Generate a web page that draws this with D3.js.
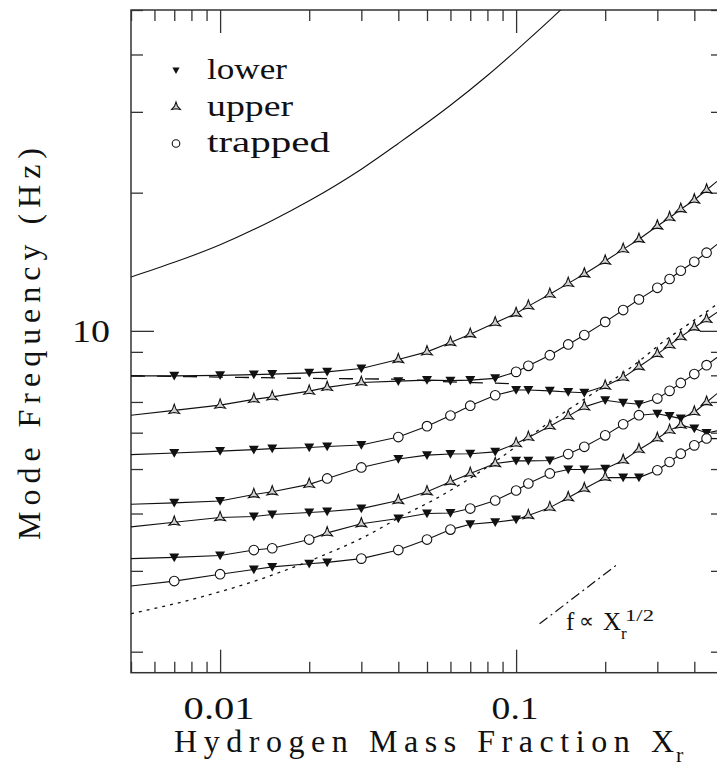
<!DOCTYPE html>
<html>
<head>
<meta charset="utf-8">
<script src="https://cdn.jsdelivr.net/npm/d3@7/dist/d3.min.js"></script>
<style>
  body { margin: 0; background: #fff; }
  text { font-family: 'Liberation Serif', 'DejaVu Serif', serif; fill: #111; }
</style>
</head>
<body>
<div id="chart"></div>
<script>
// x positions where the modes were computed
let xGrid = [0.007, 0.01, 0.013, 0.015, 0.02, 0.023, 0.03, 0.04, 0.05, 0.06, 0.07, 0.085,
  0.1, 0.11, 0.13, 0.15, 0.17, 0.2, 0.23, 0.26, 0.3, 0.33, 0.36, 0.4, 0.44]
let xEdges = [0.005, 0.5]

// branches, top to bottom (L = lower, U = upper, T = trapped)
let b1F = [7.98, 8.00, 8.03, 8.05, 8.10, 8.14, 8.28, 8.66, 9.00, 9.43, 9.83, 10.41, 10.91, 11.32, 12.01, 12.69, 13.30, 14.19, 15.05, 15.83, 16.92, 17.64, 18.40, 19.28, 20.27]
let b1Types = 'LLLLLLLUUUUUUUUUUUUUUUUUU'
let b1Edges = [7.98, 21.7]

let b2F = [6.71, 6.89, 7.09, 7.18, 7.39, 7.53, 7.72, 7.77, 7.81, 7.79, 7.81, 7.88, 8.14, 8.39, 8.85, 9.34, 9.79, 10.46, 11.10, 11.71, 12.41, 12.97, 13.52, 14.14, 14.80]
let b2Types = 'UUUUUUULLLLLTTTTTTTTTTTTT'
let b2Edges = [6.55, 15.8]

let b3F = [5.42, 5.47, 5.51, 5.54, 5.57, 5.60, 5.64, 5.87, 6.20, 6.54, 6.87, 7.24, 7.43, 7.43, 7.40, 7.36, 7.33, 7.58, 7.91, 8.35, 8.90, 9.31, 9.70, 10.17, 10.59]
let b3Types = 'LLLLLLLTTTTTLLLLLUUUUUUUU'
let b3Edges = [5.375, 11.19]

let b4F = [4.22, 4.26, 4.40, 4.46, 4.63, 4.77, 5.04, 5.26, 5.36, 5.39, 5.40, 5.45, 5.68, 5.86, 6.20, 6.52, 6.83, 7.06, 6.97, 6.92, 7.12, 7.40, 7.70, 8.05, 8.42]
let b4Types = 'LLUUUTTLLLLLUUUUULLLTTTTT'
let b4Edges = [4.19, 8.94]

let b5F = [3.83, 3.92, 3.94, 3.98, 4.02, 4.04, 4.10, 4.27, 4.46, 4.69, 4.89, 5.14, 5.21, 5.21, 5.22, 5.39, 5.59, 5.92, 6.26, 6.55, 6.60, 6.52, 6.44, 6.65, 6.99]
let b5Types = 'UULLLLLUUUUULLLTTTTTLLLUU'
let b5Edges = [3.74, 7.48]

let b6F = [3.21, 3.24, 3.33, 3.36, 3.51, 3.63, 3.80, 3.90, 4.00, 4.01, 4.10, 4.27, 4.49, 4.65, 4.89, 4.99, 4.99, 5.01, 5.22, 5.51, 5.83, 6.07, 6.23, 6.13, 5.99]
let b6Types = 'LLTTTUULLLTTTTTLLLUUUUULL'
let b6Edges = [3.19, 6.09]

let b7F = [2.85, 2.95, 3.02, 3.06, 3.11, 3.13, 3.19, 3.33, 3.51, 3.69, 3.79, 3.83, 3.88, 3.96, 4.12, 4.33, 4.53, 4.79, 4.79, 4.79, 4.97, 5.18, 5.40, 5.63, 5.83]
let b7Types = 'TTLLLLTTTTLLLUUUUULLTTTTT'
let b7Edges = [2.78, 5.82]

// unmarked solid curve at the top
let topX = [0.005, 0.007, 0.01, 0.015, 0.02, 0.03, 0.04, 0.06, 0.08, 0.1, 0.14, 0.16]
let topF = [13.1, 14.1, 15.4, 17.4, 19.2, 22.5, 25.6, 31.0, 36.0, 40.8, 49.7, 54.0]

// dotted curve
let dotX = [0.005, 0.0086, 0.0144, 0.0212, 0.0313, 0.0415, 0.054, 0.068, 0.086, 0.13, 0.178, 0.255, 0.313, 0.386, 0.464, 0.5]
let dotF = [2.42, 2.63, 2.91, 3.20, 3.58, 3.96, 4.32, 4.72, 5.22, 6.33, 7.24, 8.50, 9.45, 10.39, 11.28, 11.7]

// long dashed curve
let dashX = [0.005, 0.01, 0.02, 0.04, 0.06, 0.085, 0.095]
let dashF = [7.98, 7.93, 7.88, 7.84, 7.74, 7.69, 7.67]

// f ~ X^(1/2) guide
let guideX = [0.12, 0.22]
let guideF = [2.30, 3.10]

let xMajor = [0.01, 0.1]
let xMinor = [0.005, 0.006, 0.007, 0.008, 0.009, 0.02, 0.03, 0.04, 0.05, 0.06, 0.07, 0.08, 0.09, 0.2, 0.3, 0.4, 0.5]
let yMajor = [10]
let yMinor = [2, 3, 4, 5, 6, 7, 8, 9, 20, 30, 40, 50]
let xLabels = ['0.01', '0.1']
let yLabels = ['10']

let legendNames = ['lower', 'upper', 'trapped']
let legendTypes = ['L', 'U', 'T']

let width = 717
let height = 771
let margin = { top: 10, left: 131, right: 723, bottom: 672.7 }

let svg = d3
  .select('#chart')
  .append('svg')
  .attr('width', width)
  .attr('height', height)

let x = d3.scaleLog().domain([0.005, 0.5]).range([margin.left, margin.right])
let y = d3.scaleLog().domain([1.8, 50]).range([margin.bottom, margin.top])

svg
  .append('clipPath')
  .attr('id', 'plot-clip')
  .append('rect')
  .attr('x', margin.left)
  .attr('y', margin.top)
  .attr('width', margin.right - margin.left)
  .attr('height', margin.bottom - margin.top)

// ticks on all four sides, pointing inwards
function ticks(axis, values, size, tx, ty) {
  svg
    .append('g')
    .attr('class', 'tick-g')
    .attr('transform', 'translate(' + tx + ',' + ty + ')')
    .call(axis.tickValues(values).tickSize(-size).tickFormat(''))
}
ticks(d3.axisBottom(x), xMinor, 11, 0, margin.bottom)
ticks(d3.axisBottom(x), xMajor, 23, 0, margin.bottom)
ticks(d3.axisTop(x), xMinor, 11, 0, margin.top)
ticks(d3.axisTop(x), xMajor, 23, 0, margin.top)
ticks(d3.axisLeft(y), yMinor, 12, margin.left, 0)
ticks(d3.axisLeft(y), yMajor, 23, margin.left, 0)
ticks(d3.axisRight(y), yMinor, 12, margin.right, 0)
ticks(d3.axisRight(y), yMajor, 23, margin.right, 0)

svg.selectAll('.tick-g .domain').remove()
svg
  .selectAll('.tick-g line')
  .attr('stroke', '#333')
  .attr('stroke-width', 1.3)

svg
  .append('rect')
  .attr('x', margin.left)
  .attr('y', margin.top)
  .attr('width', margin.right - margin.left)
  .attr('height', margin.bottom - margin.top)
  .attr('fill', 'none')
  .attr('stroke', '#333')
  .attr('stroke-width', 1.5)

// tick labels
svg
  .selectAll('.xlab')
  .data(xMajor)
  .enter()
  .append('text')
  .attr('class', 'xlab')
  .attr('x', d => x(d) - 1)
  .attr('y', 719)
  .attr('text-anchor', 'middle')
  .attr('font-size', 32)
  .attr('textLength', (d, i) => (xLabels[i].length === 4 ? 71 : 47))
  .attr('lengthAdjust', 'spacingAndGlyphs')
  .text((d, i) => xLabels[i])

svg
  .selectAll('.ylab')
  .data(yMajor)
  .enter()
  .append('text')
  .attr('class', 'ylab')
  .attr('x', 72)
  .attr('y', d => y(d) + 11)
  .attr('font-size', 32)
  .attr('textLength', 38)
  .attr('lengthAdjust', 'spacingAndGlyphs')
  .text((d, i) => yLabels[i])

// axis titles
svg
  .append('text')
  .attr('x', 174)
  .attr('y', 752)
  .attr('font-size', 32)
  .attr('textLength', 500)
  .attr('lengthAdjust', 'spacing')
  .text('Hydrogen Mass Fraction X')
svg
  .append('text')
  .attr('x', 676)
  .attr('y', 762)
  .attr('font-size', 22)
  .text('r')

svg
  .append('text')
  .attr('transform', 'translate(40,344) rotate(-90)')
  .attr('text-anchor', 'middle')
  .attr('font-size', 32)
  .attr('textLength', 392)
  .attr('lengthAdjust', 'spacing')
  .text('Mode Frequency (Hz)')

// curves
let plot = svg.append('g').attr('clip-path', 'url(#plot-clip)')

let line = d3
  .line()
  .x(d => x(d[0]))
  .y(d => y(d[1]))
let smooth = d3
  .line()
  .x(d => x(d[0]))
  .y(d => y(d[1]))
  .curve(d3.curveMonotoneX)

plot
  .append('path')
  .datum(topX.map((v, i) => [v, topF[i]]))
  .attr('d', smooth)
  .attr('fill', 'none')
  .attr('stroke', '#111')
  .attr('stroke-width', 1.1)

plot
  .append('path')
  .datum(dotX.map((v, i) => [v, dotF[i]]))
  .attr('d', smooth)
  .attr('fill', 'none')
  .attr('stroke', '#111')
  .attr('stroke-width', 1.3)
  .attr('stroke-dasharray', '3,5')

plot
  .append('path')
  .datum(dashX.map((v, i) => [v, dashF[i]]))
  .attr('d', smooth)
  .attr('fill', 'none')
  .attr('stroke', '#111')
  .attr('stroke-width', 1.3)
  .attr('stroke-dasharray', '14,12')

plot
  .append('path')
  .datum(guideX.map((v, i) => [v, guideF[i]]))
  .attr('d', line)
  .attr('fill', 'none')
  .attr('stroke', '#111')
  .attr('stroke-width', 1.2)
  .attr('stroke-dasharray', '10,4,2,4')

let branches = [
  [b1F, b1Types, b1Edges],
  [b2F, b2Types, b2Edges],
  [b3F, b3Types, b3Edges],
  [b4F, b4Types, b4Edges],
  [b5F, b5Types, b5Edges],
  [b6F, b6Types, b6Edges],
  [b7F, b7Types, b7Edges]
]

branches.forEach(b => {
  let pts = [[xEdges[0], b[2][0]]]
    .concat(xGrid.map((v, i) => [v, b[0][i]]))
    .concat([[xEdges[1], b[2][1]]])
  plot
    .append('path')
    .datum(pts)
    .attr('d', line)
    .attr('fill', 'none')
    .attr('stroke', '#111')
    .attr('stroke-width', 1.1)
})

// marker shapes
function lowerPath(s) {
  return 'M' + -s + ',' + -s * 0.8 + 'L' + s + ',' + -s * 0.8 + 'L0,' + s * 0.95 + 'Z'
}
function upperPath(r, ri) {
  let pts = []
  for (let i = 0; i < 6; i++) {
    let a = -Math.PI / 2 + (i * Math.PI) / 3
    let rr = i % 2 === 0 ? r : ri
    pts.push([rr * Math.cos(a), rr * Math.sin(a)])
  }
  return 'M' + pts.map(p => p[0].toFixed(2) + ',' + p[1].toFixed(2)).join('L') + 'Z'
}

function marker(g, type, big) {
  if (type === 'L') {
    g.append('path')
      .attr('d', lowerPath(big ? 5 : 3.6))
      .attr('fill', '#111')
  } else if (type === 'U') {
    g.append('path')
      .attr('d', upperPath(big ? 6.2 : 5, big ? 2.1 : 1.7))
      .attr('fill', '#d4d4d4')
      .attr('stroke', '#111')
      .attr('stroke-width', 1.1)
      .attr('stroke-linejoin', 'miter')
  } else {
    g.append('circle')
      .attr('r', big ? 4.8 : 3.8)
      .attr('fill', '#fff')
      .attr('stroke', '#111')
      .attr('stroke-width', 1.1)
  }
}

let markerData = []
branches.forEach(b => {
  xGrid.forEach((v, i) => markerData.push({ x: v, f: b[0][i], t: b[1][i] }))
})

plot
  .selectAll('.mk')
  .data(markerData)
  .enter()
  .append('g')
  .attr('class', 'mk')
  .attr('transform', d => 'translate(' + x(d.x) + ',' + y(d.f) + ')')
  .each(function(d) {
    marker(d3.select(this), d.t, true)
  })

// legend
let legend = svg
  .selectAll('.leg')
  .data(legendNames)
  .enter()
  .append('g')
  .attr('class', 'leg')
  .attr('transform', (d, i) => 'translate(176,' + (70.5 + i * 36.5) + ')')

legend.each(function(d, i) {
  marker(d3.select(this), legendTypes[i], false)
})

legend
  .append('text')
  .attr('x', 31)
  .attr('y', 8.5)
  .attr('font-size', 29)
  .attr('textLength', (d, i) => [80, 86, 123][i])
  .attr('lengthAdjust', 'spacingAndGlyphs')
  .text(d => d)

// guide label
svg.append('text').attr('x', 566).attr('y', 630).attr('font-size', 25).text('f')
svg
  .append('text')
  .attr('x', 579)
  .attr('y', 628)
  .attr('font-size', 21)
  .style('font-family', 'DejaVu Sans')
  .text('\u221d')
svg.append('text').attr('x', 603).attr('y', 630).attr('font-size', 25).text('X')
svg.append('text').attr('x', 621).attr('y', 639).attr('font-size', 17).text('r')
svg
  .append('text')
  .attr('x', 625)
  .attr('y', 621)
  .attr('font-size', 17)
  .attr('textLength', 29)
  .attr('lengthAdjust', 'spacingAndGlyphs')
  .text('1/2')
</script>
</body>
</html>
